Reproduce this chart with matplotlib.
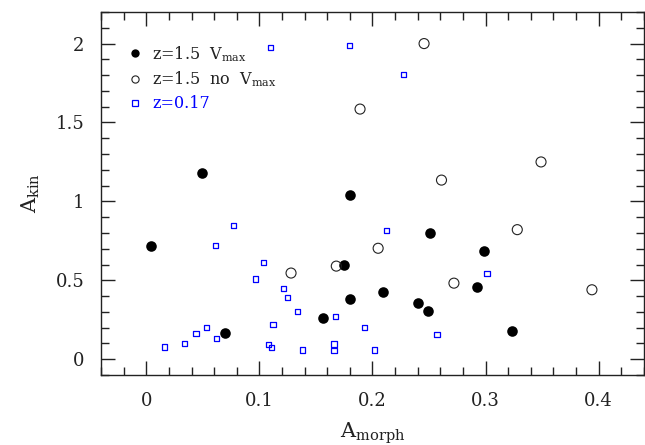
import matplotlib
matplotlib.use("Agg")
import matplotlib.pyplot as plt
from matplotlib.lines import Line2D
from matplotlib.ticker import MultipleLocator, FixedFormatter, FixedLocator

plt.rcParams['font.family'] = ['DejaVu Serif']
plt.rcParams['mathtext.fontset'] = 'dejavuserif'

# z=1.5 with Vmax (filled circles)
vmax_x = [0.004, 0.049, 0.180, 0.070, 0.156, 0.175, 0.180, 0.209, 0.251, 0.240, 0.249, 0.299, 0.292, 0.323]
vmax_y = [0.72, 1.18, 1.04, 0.163, 0.26, 0.597, 0.381, 0.425, 0.80, 0.357, 0.305, 0.686, 0.46, 0.176]

# z=1.5 without Vmax (open circles)
novmax_x = [0.189, 0.2456, 0.349, 0.261, 0.128, 0.168, 0.205, 0.272, 0.328, 0.394]
novmax_y = [1.585, 2.00, 1.25, 1.135, 0.546, 0.59, 0.703, 0.482, 0.821, 0.44]

# z=0.17 (blue squares)
low_x = [0.110, 0.180, 0.2276, 0.0774, 0.061, 0.104, 0.0966, 0.121, 0.125, 0.134,
         0.167, 0.112, 0.193, 0.053, 0.044, 0.062, 0.034, 0.0158, 0.108, 0.111,
         0.138, 0.166, 0.166, 0.202, 0.2125, 0.257, 0.3013]
low_y = [1.973, 1.987, 1.803, 0.846, 0.72, 0.614, 0.508, 0.447, 0.392, 0.30,
         0.269, 0.22, 0.203, 0.199, 0.163, 0.129, 0.10, 0.078, 0.091, 0.074,
         0.059, 0.097, 0.053, 0.059, 0.815, 0.157, 0.544]

xticks = [0, 0.1, 0.2, 0.3, 0.4]
xticklabels = ['0', '0.1', '0.2', '0.3', '0.4']
yticks = [0, 0.5, 1, 1.5, 2]
yticklabels = ['0', '0.5', '1', '1.5', '2']
legend_labels = [r'z=1.5  $\mathrm{V_{max}}$', r'z=1.5  no  $\mathrm{V_{max}}$', 'z=0.17']

fig = plt.figure(figsize=(6.45, 4.45), dpi=100)
ax = fig.add_axes([0.1566, 0.1573, 0.9984 - 0.1566, 0.973 - 0.1573])

ax.scatter(vmax_x, vmax_y, s=58, c='black', marker='o', linewidths=0, zorder=3)
ax.scatter(novmax_x, novmax_y, s=52, facecolors='none', edgecolors='#222222',
           marker='o', linewidths=0.8, zorder=3)
ax.scatter(low_x, low_y, s=14, facecolors='none', edgecolors='#0000ff',
           marker='s', linewidths=0.9, zorder=3)

ax.set_xlim(-0.04, 0.44)
ax.set_ylim(-0.1, 2.2)
ax.xaxis.set_major_locator(FixedLocator(xticks))
ax.xaxis.set_major_formatter(FixedFormatter(xticklabels))
ax.yaxis.set_major_locator(FixedLocator(yticks))
ax.yaxis.set_major_formatter(FixedFormatter(yticklabels))
ax.xaxis.set_minor_locator(MultipleLocator(0.02))
ax.yaxis.set_minor_locator(MultipleLocator(0.1))
ax.tick_params(which='both', direction='in', top=True, right=True, width=1.0,
               color='#222222', labelcolor='#222222')
ax.tick_params(which='major', length=10, labelsize=13, pad=12)
ax.tick_params(which='minor', length=6)
for sp in ax.spines.values():
    sp.set_linewidth(1.0)
    sp.set_color('#222222')

ax.set_xlabel(r'$\mathrm{A_{morph}}$', fontsize=15, labelpad=8, color='#222222')
ax.set_ylabel(r'$\mathrm{A_{kin}}$', fontsize=15, labelpad=10, color='#222222')

handles = [
    Line2D([], [], ls='none', marker='o', ms=6.0, mfc='black', mec='black', mew=0),
    Line2D([], [], ls='none', marker='o', ms=5.2, mfc='none', mec='#222222', mew=0.8),
    Line2D([], [], ls='none', marker='s', ms=3.8, mfc='none', mec='#0000ff', mew=0.9),
]
leg = ax.legend(handles, legend_labels,
                loc='upper left', bbox_to_anchor=(0.05, 0.912), frameon=False,
                fontsize=11.5, handlelength=0.8, handletextpad=0.7, labelspacing=0.38,
                borderaxespad=0, borderpad=0)
leg.get_texts()[0].set_color('#222222')
leg.get_texts()[1].set_color('#222222')
leg.get_texts()[2].set_color('#0000ff')

fig.savefig('out.png', dpi=100)
